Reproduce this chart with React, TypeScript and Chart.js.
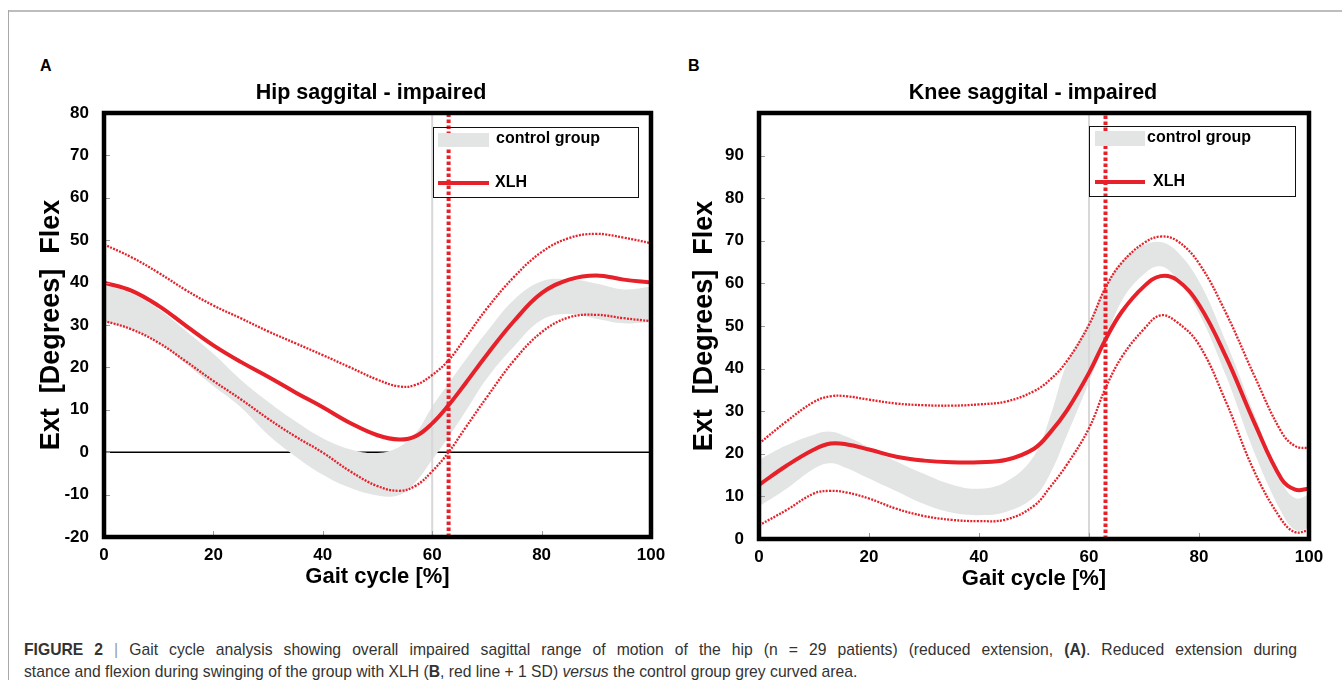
import React, { useEffect, useRef } from 'react';
import { Chart, registerables } from 'chart.js';

Chart.register(...registerables);

const FONT = '"Liberation Sans", Arial, Helvetica, sans-serif';
const RED = '#e6212a';
const BAND = '#e3e5e5';

// ---------- shared ----------
const xTicks = [0, 20, 40, 60, 80, 100];
const controlToeOff = 60;
const xlhToeOff = 63;

// ---------- Hip (A) ----------
const hipYTicks = [-20, -10, 0, 10, 20, 30, 40, 50, 60, 70, 80];
const hipX = [0, 5, 10, 15, 20, 25, 30, 35, 40, 45, 50, 54, 57, 60, 63, 66, 70, 75, 80, 85, 90, 95, 100];
const hipMean = [40.0, 38.1, 34.5, 29.8, 25.2, 21.3, 17.8, 14.1, 10.6, 6.9, 4.0, 3.0, 3.8, 6.8, 11.1, 16.1, 23.0, 31.0, 37.5, 40.7, 41.7, 40.7, 40.0];
const hipUpper = [49.0, 46.0, 42.3, 38.2, 34.6, 31.6, 28.5, 25.7, 22.9, 20.0, 17.1, 15.5, 15.9, 18.2, 21.7, 26.8, 33.9, 41.4, 47.2, 50.5, 51.5, 50.6, 49.3];
const hipLower = [31.0, 29.0, 25.8, 21.4, 16.8, 12.5, 7.9, 3.7, -0.1, -4.5, -8.0, -9.1, -7.9, -4.5, 0.0, 5.6, 13.0, 21.7, 28.3, 31.8, 32.4, 31.6, 30.9];
const hipBandUpper = [39.5, 37.5, 33.7, 28.6, 23.2, 17.1, 11.9, 7.3, 3.3, 0.7, -0.2, 1.3, 4.5, 10.8, 16.2, 21.6, 28.4, 36.0, 40.3, 40.8, 39.8, 38.4, 39.0];
const hipBandLower = [30.8, 29.0, 25.8, 20.8, 15.6, 10.6, 4.1, -1.0, -5.3, -8.4, -10.2, -10.1, -7.0, -1.8, 3.6, 9.4, 17.4, 25.0, 31.2, 32.6, 31.5, 30.4, 30.7];

// ---------- Knee (B) ----------
const kneeYTicks = [0, 10, 20, 30, 40, 50, 60, 70, 80, 90];
const kneeX = [0, 5, 10, 13, 16, 20, 25, 30, 35, 40, 45, 50, 53, 56, 60, 63, 66, 70, 73, 76, 80, 85, 90, 95, 97.5, 100];
const kneeMean = [12.7, 17.2, 21.0, 22.4, 22.2, 21.0, 19.3, 18.4, 18.0, 18.0, 18.6, 21.2, 25.1, 30.2, 39.0, 46.8, 53.4, 59.3, 61.7, 60.8, 55.0, 42.5, 27.5, 14.1, 11.6, 11.8];
const kneeUpper = [22.4, 27.6, 32.2, 33.5, 33.5, 32.7, 31.8, 31.4, 31.3, 31.6, 32.3, 34.7, 37.5, 41.8, 50.3, 59.0, 64.9, 69.5, 71.0, 70.0, 64.7, 52.8, 38.5, 25.1, 21.8, 21.3];
const kneeLower = [3.2, 6.8, 10.7, 11.3, 10.9, 9.5, 7.1, 5.4, 4.5, 4.2, 4.6, 7.8, 12.3, 17.5, 26.0, 35.4, 42.8, 49.3, 52.5, 50.9, 45.6, 31.9, 16.0, 4.5, 1.6, 2.1];
const kneeBandUpper = [18.6, 22.0, 24.5, 25.2, 24.0, 21.5, 18.2, 15.3, 12.8, 11.8, 13.5, 19.5, 29.0, 41.3, 51.0, 59.3, 65.3, 69.0, 69.7, 67.5, 60.5, 46.0, 29.5, 13.5, 9.6, 10.4];
const kneeBandLower = [7.6, 11.8, 16.5, 17.8, 16.6, 14.2, 11.2, 8.2, 6.2, 5.6, 6.4, 9.8, 15.5, 24.4, 36.8, 46.6, 56.0, 62.2, 64.0, 61.0, 53.0, 38.0, 20.5, 6.3, 2.1, 2.5];

const pts = (xs: number[], ys: number[]) => xs.map((x, i) => ({ x, y: ys[i] }));

type PanelCfg = {
  title: string;
  left: number;
  top: number;
  width: number;
  height: number;
  yScaleWidth: number;
  yTitlePad: number;
  padRight: number;
  titleCx: number;
  x: number[];
  mean: number[];
  upper: number[];
  lower: number[];
  bandUpper: number[];
  bandLower: number[];
  yTicks: number[];
  yMin: number;
  yMax: number;
  zeroLine: boolean;
  legend: { dx: number; dy: number; w: number; h: number; swX: number; swY: number; swW: number; swH: number; t1x: number; t1y: number; lineY: number; t2x: number };
};

const decorPlugin = {
  id: 'decor',
  afterDatasetsDraw(chart: any, _a: any, o: any) {
    const { ctx, chartArea: ca } = chart;
    const L = o.legend;
    const bx = ca.left + L.dx;
    const by = ca.top + L.dy;
    ctx.save();
    ctx.strokeStyle = '#111';
    ctx.lineWidth = 1;
    ctx.strokeRect(bx + 0.5, by + 0.5, L.w, L.h);
    ctx.fillStyle = BAND;
    ctx.fillRect(bx + L.swX, by + L.swY, L.swW, L.swH);
    ctx.strokeStyle = RED;
    ctx.lineWidth = 4;
    ctx.beginPath();
    ctx.moveTo(bx + L.swX, by + L.lineY);
    ctx.lineTo(bx + L.swX + L.swW, by + L.lineY);
    ctx.stroke();
    ctx.fillStyle = '#000';
    ctx.font = `bold 16px ${FONT}`;
    ctx.textAlign = 'left';
    ctx.textBaseline = 'middle';
    ctx.fillText('control group', bx + L.t1x, by + L.t1y);
    ctx.fillText('XLH', bx + L.t2x, by + L.lineY);
    ctx.restore();
  },
  afterDraw(chart: any, _a: any, o: any) {
    const { ctx, chartArea: ca, scales } = chart;
    ctx.save();
    ctx.strokeStyle = '#9a9a9a';
    ctx.lineWidth = 1;
    ctx.beginPath();
    scales.y.ticks.forEach((t: any) => {
      const py = Math.round(scales.y.getPixelForValue(t.value)) + 0.5;
      ctx.moveTo(ca.left, py);
      ctx.lineTo(ca.left + 6, py);
    });
    scales.x.ticks.forEach((t: any) => {
      const px = Math.round(scales.x.getPixelForValue(t.value)) + 0.5;
      ctx.moveTo(px, ca.bottom);
      ctx.lineTo(px, ca.bottom - 6);
    });
    ctx.stroke();
    ctx.strokeStyle = '#000';
    ctx.lineWidth = 4.5;
    ctx.strokeRect(ca.left, ca.top, ca.right - ca.left, ca.bottom - ca.top);
    ctx.fillStyle = '#000';
    ctx.font = `bold 21.5px ${FONT}`;
    ctx.textAlign = 'center';
    ctx.textBaseline = 'middle';
    ctx.fillText(o.title, o.titleCx, o.titleY);
    ctx.restore();
  },
};

function Panel({ cfg }: { cfg: PanelCfg }) {
  const ref = useRef<HTMLCanvasElement>(null);
  useEffect(() => {
    if (!ref.current) return;
    const curve = { pointRadius: 0, tension: 0.4, fill: false };
    const datasets: any[] = [
      {
        label: 'XLH toe-off',
        data: [{ x: xlhToeOff, y: cfg.yMin }, { x: xlhToeOff, y: cfg.yMax }],
        borderColor: RED, borderWidth: 4, borderDash: [3.5, 2.5], pointRadius: 0, fill: false,
      },
      { label: 'XLH', data: pts(cfg.x, cfg.mean), borderColor: RED, borderWidth: 4, ...curve },
      { label: 'XLH +1 SD', data: pts(cfg.x, cfg.upper), borderColor: RED, borderWidth: 2.3, borderDash: [2, 1.3], ...curve },
      { label: 'XLH -1 SD', data: pts(cfg.x, cfg.lower), borderColor: RED, borderWidth: 2.3, borderDash: [2, 1.3], ...curve },
      {
        label: 'control toe-off',
        data: [{ x: controlToeOff, y: cfg.yMin }, { x: controlToeOff, y: cfg.yMax }],
        borderColor: '#d8d8d8', borderWidth: 2, pointRadius: 0, fill: false,
      },
      {
        label: 'control group', data: pts(cfg.x, cfg.bandUpper), borderColor: 'rgba(0,0,0,0)', borderWidth: 0,
        backgroundColor: BAND, pointRadius: 0, tension: 0.4, fill: '+1',
      },
      {
        label: 'control lower', data: pts(cfg.x, cfg.bandLower), borderColor: 'rgba(0,0,0,0)', borderWidth: 0,
        pointRadius: 0, tension: 0.4, fill: false,
      },
    ];
    if (cfg.zeroLine) {
      datasets.push({
        label: 'zero', data: [{ x: xTicks[0], y: 0 }, { x: xTicks[xTicks.length - 1], y: 0 }],
        borderColor: '#000', borderWidth: 1.6, pointRadius: 0, fill: false,
      });
    }
    const chart = new Chart(ref.current, {
      type: 'line',
      data: { datasets },
      plugins: [decorPlugin as any],
      options: {
        responsive: false,
        animation: false,
        devicePixelRatio: 1,
        layout: { padding: { left: 0, right: cfg.padRight, top: 43, bottom: 0 } },
        plugins: {
          legend: { display: false },
          tooltip: { enabled: false },
          title: { display: false },
          decor: { title: cfg.title, titleCx: cfg.titleCx, titleY: 23, legend: cfg.legend },
        } as any,
        scales: {
          x: {
            type: 'linear',
            min: xTicks[0],
            max: xTicks[xTicks.length - 1],
            grid: { display: false },
            border: { display: false },
            afterBuildTicks: (s: any) => { s.ticks = xTicks.map((v) => ({ value: v })); },
            afterFit: (s: any) => { s.height = 53; },
            ticks: { color: '#000', font: { family: FONT, size: 17, weight: 'bold' }, padding: 0, maxRotation: 0, autoSkip: false },
            title: { display: true, text: 'Gait cycle [%]', color: '#000', font: { family: FONT, size: 22, weight: 'bold' }, padding: { top: 0, bottom: 0 } },
          },
          y: {
            type: 'linear',
            min: cfg.yMin,
            max: cfg.yMax,
            grid: { display: false },
            border: { display: false },
            afterBuildTicks: (s: any) => { s.ticks = cfg.yTicks.map((v) => ({ value: v })); },
            afterFit: (s: any) => { s.width = cfg.yScaleWidth; },
            ticks: { color: '#000', font: { family: FONT, size: 17, weight: 'bold' }, padding: 7, autoSkip: false },
            title: { display: true, text: 'Ext  [Degrees]  Flex', color: '#000', font: { family: FONT, size: 27, weight: 'bold' }, padding: { top: cfg.yTitlePad, bottom: 0 } },
          },
        },
      } as any,
    });
    return () => chart.destroy();
  }, [cfg]);
  return (
    <div style={{ position: 'absolute', left: cfg.left, top: cfg.top, width: cfg.width, height: cfg.height }}>
      <canvas ref={ref} width={cfg.width} height={cfg.height} style={{ display: 'block', width: cfg.width, height: cfg.height }} />
    </div>
  );
}

const hipCfg: PanelCfg = {
  title: 'Hip saggital - impaired',
  left: 30, top: 70, width: 640, height: 520,
  yScaleWidth: 74, yTitlePad: 5.8, padRight: 19, titleCx: 341,
  x: hipX, mean: hipMean, upper: hipUpper, lower: hipLower, bandUpper: hipBandUpper, bandLower: hipBandLower,
  yTicks: hipYTicks, yMin: -20, yMax: 80, zeroLine: true,
  legend: { dx: 329, dy: 14, w: 205, h: 70, swX: 5, swY: 6, swW: 51, swH: 14, t1x: 63, t1y: 12, lineY: 56, t2x: 62 },
};

const kneeCfg: PanelCfg = {
  title: 'Knee saggital - impaired',
  left: 686, top: 70, width: 644, height: 522,
  yScaleWidth: 73, yTitlePad: 2.8, padRight: 21, titleCx: 347,
  x: kneeX, mean: kneeMean, upper: kneeUpper, lower: kneeLower, bandUpper: kneeBandUpper, bandLower: kneeBandLower,
  yTicks: kneeYTicks, yMin: 0, yMax: 100, zeroLine: false,
  legend: { dx: 330, dy: 13, w: 206, h: 70, swX: 6, swY: 5, swW: 50, swH: 15, t1x: 58, t1y: 12, lineY: 56, t2x: 64 },
};

export default function App() {
  return (
    <div style={{ position: 'absolute', left: 0, top: 0, width: 1342, height: 680, overflow: 'hidden', background: '#fff', fontFamily: FONT }}>
      <div style={{ position: 'absolute', left: 8, top: 10, width: 1334, height: 2, background: '#bdbdbd' }} />
      <div style={{ position: 'absolute', left: 8, top: 10, width: 1, height: 670, background: '#a8a8a8' }} />
      <div style={{ position: 'absolute', left: 40, top: 57, fontSize: 16, fontWeight: 'bold', color: '#000' }}>A</div>
      <div style={{ position: 'absolute', left: 688, top: 57, fontSize: 16, fontWeight: 'bold', color: '#000' }}>B</div>
      <Panel cfg={hipCfg} />
      <Panel cfg={kneeCfg} />
      <div style={{ position: 'absolute', left: 24, top: 639, width: 1273, fontSize: 15.7, lineHeight: '22px', color: '#333' }}>
        <div style={{ whiteSpace: 'nowrap', textAlign: 'justify', textAlignLast: 'justify' } as any}>
          <b>FIGURE 2</b> <span style={{ color: '#999' }}>|</span> Gait cycle analysis showing overall impaired sagittal range of motion of the hip (n = 29 patients) (reduced extension, <b>(A)</b>. Reduced extension during
        </div>
        <div style={{ whiteSpace: 'nowrap' }}>
          stance and flexion during swinging of the group with XLH (<b>B</b>, red line + 1 SD) <i>versus</i> the control group grey curved area.
        </div>
      </div>
    </div>
  );
}
